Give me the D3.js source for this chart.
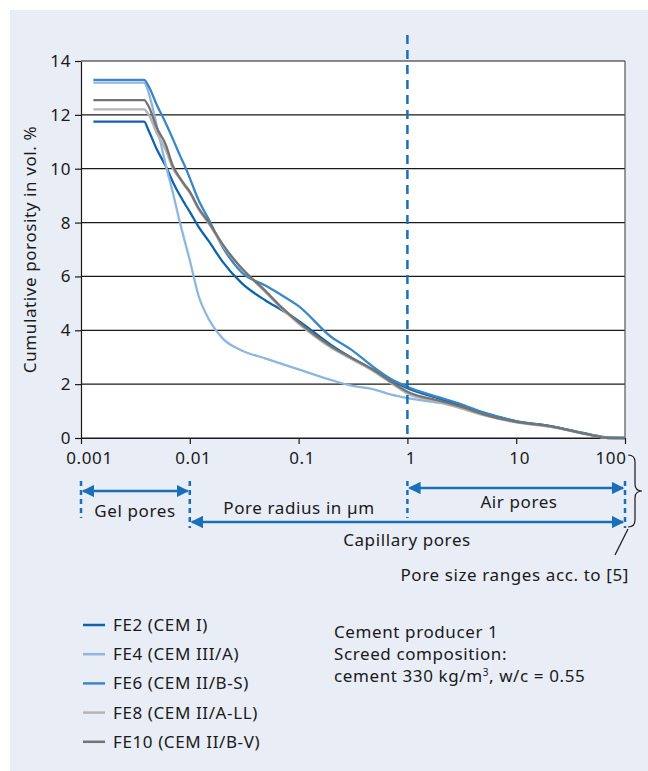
<!DOCTYPE html>
<html>
<head>
<meta charset="utf-8">
<script src="https://cdn.jsdelivr.net/npm/d3@7"></script>
<style>
  body { margin: 0; background: white; }
  text { font-family: "Noto Sans", "Open Sans", sans-serif; fill: #1a1a1a; letter-spacing: 0.6px; }
</style>
</head>
<body>
<div id="chart"></div>
<script>
// Data
const radii = [0.0013, 0.0038, 0.0042, 0.005, 0.006, 0.007, 0.008, 0.009, 0.01, 0.012, 0.015, 0.02, 0.03, 0.05, 0.07, 0.1, 0.2, 0.3, 0.5, 0.7, 1, 2, 3, 5, 10, 20, 50, 70, 100];
const fe2  = [11.75, 11.75, 11.4, 10.7, 10.1, 9.5, 9.05, 8.7, 8.4, 7.85, 7.3, 6.55, 5.75, 5.1, 4.75, 4.35, 3.45, 3.0, 2.5, 2.15, 1.85, 1.45, 1.22, 0.93, 0.62, 0.45, 0.11, 0.01, 0];
const fe4  = [13.2, 13.2, 12.8, 11.55, 10.15, 9.1, 8.1, 7.3, 6.6, 5.3, 4.4, 3.7, 3.25, 2.95, 2.75, 2.55, 2.15, 1.95, 1.8, 1.62, 1.48, 1.3, 1.13, 0.88, 0.6, 0.43, 0.1, 0, 0];
const fe6  = [13.3, 13.3, 13.05, 12.35, 11.7, 11.1, 10.55, 10.1, 9.65, 8.85, 8.1, 7.1, 6.15, 5.65, 5.3, 4.9, 3.75, 3.3, 2.6, 2.2, 1.9, 1.5, 1.28, 0.95, 0.63, 0.45, 0.12, 0.02, 0];
const fe8  = [12.2, 12.2, 12.0, 11.3, 10.7, 10.0, 9.65, 9.35, 9.1, 8.5, 7.95, 7.15, 6.3, 5.4, 4.8, 4.25, 3.35, 2.95, 2.45, 2.05, 1.65, 1.33, 1.12, 0.85, 0.58, 0.42, 0.1, 0, 0];
const fe10 = [12.55, 12.55, 12.3, 11.5, 10.9, 10.1, 9.7, 9.4, 9.15, 8.55, 8.0, 7.2, 6.3, 5.45, 4.85, 4.3, 3.4, 3.0, 2.5, 2.1, 1.72, 1.38, 1.18, 0.88, 0.6, 0.44, 0.1, 0, 0];

const seriesNames = ['FE2 (CEM I)', 'FE4 (CEM III/A)', 'FE6 (CEM II/B-S)', 'FE8 (CEM II/A-LL)', 'FE10 (CEM II/B-V)'];
const seriesColors = ['#0f63ad', '#8fb6e0', '#3a87c7', '#b4b4b4', '#737373'];
const seriesValues = [fe2, fe4, fe6, fe8, fe10];

const xTicks = [0.001, 0.01, 0.1, 1, 10, 100];
const yTicks = [0, 2, 4, 6, 8, 10, 12, 14];
const noteLines = ['Cement producer 1', 'Screed composition:'];

const width = 648, height = 771;
const margin = { top: 61, right: 23, bottom: 333, left: 81 };
const fontSize = '17px';

const svg = d3.select('#chart').append('svg')
    .attr('width', width)
    .attr('height', height);

// Panel background
svg.append('rect')
    .attr('x', 10).attr('y', 10)
    .attr('width', width - 10).attr('height', height - 10)
    .attr('fill', '#e8edf6');

const x = d3.scaleLog()
    .domain([0.001, 100])
    .range([margin.left, width - margin.right]);

const y = d3.scaleLinear()
    .domain([0, 14])
    .range([height - margin.bottom, margin.top]);

// Plot area
svg.append('rect')
    .attr('x', x(0.001)).attr('y', y(14))
    .attr('width', x(100) - x(0.001)).attr('height', y(0) - y(14))
    .attr('fill', 'white');

// Gridlines
svg.append('g')
    .selectAll('line').data(yTicks)
    .enter().append('line')
        .attr('x1', x(0.001)).attr('x2', x(100))
        .attr('y1', d => y(d)).attr('y2', d => y(d))
        .attr('stroke', '#1a1a1a')
        .attr('stroke-width', 1.2);

// Right border
svg.append('line')
    .attr('x1', x(100)).attr('x2', x(100))
    .attr('y1', y(14)).attr('y2', y(0))
    .attr('stroke', '#555').attr('stroke-width', 1.2);

// Y axis
svg.append('g')
    .attr('transform', `translate(${x(0.001)},0)`)
    .call(d3.axisLeft(y).tickValues(yTicks).tickSize(6).tickSizeOuter(0))
    .call(g => g.selectAll('.domain').attr('stroke', '#1a1a1a').attr('stroke-width', 1.2))
    .call(g => g.selectAll('.tick line').attr('stroke', '#1a1a1a').attr('stroke-width', 1.2))
    .call(g => g.selectAll('.tick text')
        .attr('font-size', fontSize)
        .attr('font-family', '"Noto Sans", sans-serif')
        .attr('fill', '#1a1a1a')
        .attr('dx', '-1px'));

// X axis
svg.append('g')
    .attr('transform', `translate(0,${y(0)})`)
    .call(d3.axisBottom(x).tickValues(xTicks).tickFormat(d => String(d)).tickSize(6).tickSizeOuter(0))
    .call(g => g.selectAll('.domain').attr('stroke', '#1a1a1a').attr('stroke-width', 1.2))
    .call(g => g.selectAll('.tick line').attr('stroke', '#1a1a1a').attr('stroke-width', 1.2))
    .call(g => g.selectAll('.tick text')
        .attr('font-size', fontSize)
        .attr('font-family', '"Noto Sans", sans-serif')
        .attr('fill', '#1a1a1a')
        .attr('y', 14)
        .attr('dy', '0.71em')
        .attr('text-anchor', d => d === 100 ? 'end' : 'middle')
        .attr('dx', d => d === 0.001 ? 8 : (d === 100 ? 1 : 3)));

// Y label
svg.append('text')
    .attr('transform', `translate(36,${(y(0) + y(14)) / 2}) rotate(-90)`)
    .attr('text-anchor', 'middle')
    .attr('font-size', fontSize)
    .text('Cumulative porosity in vol. %');

// Curves
const line = d3.line()
    .x(d => x(d[0]))
    .y(d => y(d[1]))
    .curve(d3.curveMonotoneX);

svg.append('g')
    .selectAll('path').data(seriesValues)
    .enter().append('path')
        .attr('d', vals => line(radii.map((r, i) => [r, vals[i]])))
        .attr('fill', 'none')
        .attr('stroke', (d, i) => seriesColors[i])
        .attr('stroke-width', 2.3)
        .attr('stroke-linejoin', 'round');

// Dashed line at 1 µm
const blue = '#1a6fb8';
svg.append('line')
    .attr('x1', x(1)).attr('x2', x(1))
    .attr('y1', 35).attr('y2', y(0))
    .attr('stroke', blue)
    .attr('stroke-width', 2.5)
    .attr('stroke-dasharray', '9,6');

// Pore ranges
const defs = svg.append('defs');
defs.append('marker')
    .attr('id', 'arrow')
    .attr('viewBox', '0 0 10 10')
    .attr('refX', 9).attr('refY', 5)
    .attr('markerWidth', 5).attr('markerHeight', 5)
    .attr('orient', 'auto-start-reverse')
    .append('path')
        .attr('d', 'M0,0 L10,5 L0,10 z')
        .attr('fill', blue);

function dotted(xv, y1, y2) {
    svg.append('line')
        .attr('x1', x(xv)).attr('x2', x(xv))
        .attr('y1', y1).attr('y2', y2)
        .attr('stroke', blue)
        .attr('stroke-width', 2.5)
        .attr('stroke-dasharray', '5,4');
}

function arrow(x1, x2, yy) {
    svg.append('line')
        .attr('x1', x(x1) + 2).attr('x2', x(x2) - 2)
        .attr('y1', yy).attr('y2', yy)
        .attr('stroke', blue)
        .attr('stroke-width', 2.5)
        .attr('marker-end', 'url(#arrow)')
        .attr('marker-start', 'url(#arrow)');
}

dotted(0.001, 481, 518);
dotted(0.01, 481, 528);
dotted(1, 481, 518);
dotted(100, 481, 528);

arrow(0.001, 0.01, 491);
arrow(1, 100, 488);
arrow(0.01, 100, 522);

const labels = [
    { t: 'Gel pores', x: 135, y: 517, a: 'middle' },
    { t: 'Pore radius in µm', x: 299, y: 514, a: 'middle' },
    { t: 'Air pores', x: 519, y: 508, a: 'middle' },
    { t: 'Capillary pores', x: 407, y: 546, a: 'middle' },
    { t: 'Pore size ranges acc. to [5]', x: 629, y: 581, a: 'end' }
];
svg.append('g')
    .selectAll('text').data(labels)
    .enter().append('text')
        .attr('x', d => d.x).attr('y', d => d.y)
        .attr('text-anchor', d => d.a)
        .attr('font-size', fontSize)
        .text(d => d.t);

// Brace and leader line
svg.append('path')
    .attr('d', 'M628,455 Q635,455 635,462 L635,484 Q635,491 642,491 Q635,491 635,498 L635,520 Q635,527 628,527')
    .attr('fill', 'none')
    .attr('stroke', '#1a1a1a')
    .attr('stroke-width', 1.2);
svg.append('line')
    .attr('x1', 628).attr('y1', 529)
    .attr('x2', 615).attr('y2', 555)
    .attr('stroke', '#1a1a1a')
    .attr('stroke-width', 1.2);

// Legend
const legend = svg.append('g')
    .selectAll('g').data(seriesNames)
    .enter().append('g')
        .attr('transform', (d, i) => `translate(83,${625 + i * 29.2})`);
legend.append('line')
    .attr('x1', 0).attr('x2', 22)
    .attr('stroke', (d, i) => seriesColors[i])
    .attr('stroke-width', 2.5);
legend.append('text')
    .attr('x', 30).attr('dy', '0.35em')
    .attr('font-size', fontSize)
    .text(d => d);

// Note
const note = svg.append('text')
    .attr('x', 334).attr('y', 638)
    .attr('font-size', fontSize);
note.selectAll('tspan').data(noteLines)
    .enter().append('tspan')
        .attr('x', 334)
        .attr('dy', (d, i) => i === 0 ? 0 : 22)
        .text(d => d);
const last = note.append('tspan').attr('x', 334).attr('dy', 22);
last.append('tspan').text('cement 330 kg/m');
last.append('tspan').attr('font-size', '10px').attr('dy', -6).text('3');
last.append('tspan').attr('dy', 6).text(', w/c = 0.55');
</script>
</body>
</html>
